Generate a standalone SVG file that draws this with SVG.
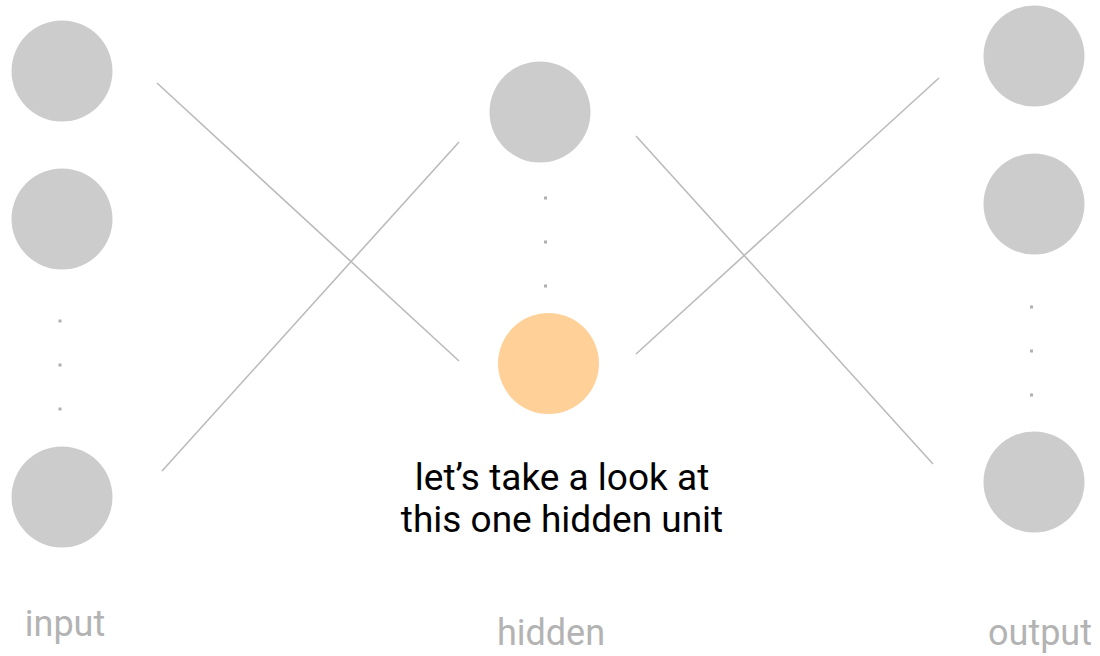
<svg xmlns="http://www.w3.org/2000/svg" width="1100" height="656" viewBox="0 0 1100 656">
<style>
.n{fill:#cccccc}
.h{fill:#ffd199}
.e{stroke:#bbbbbb;stroke-width:1.6;fill:none}
.d{fill:#b0b0b0}
.lbl{font-family:Roboto,"Liberation Sans",sans-serif;font-size:36px;fill:#b3b3b3;text-anchor:middle}
.note{font-family:Roboto,"Liberation Sans",sans-serif;font-size:37px;fill:#000;text-anchor:middle}
</style>
<rect width="1100" height="656" fill="#fff"/>
<g id="connectors">
<line class="e" x1="157" y1="83" x2="459" y2="361"/>
<line class="e" x1="162" y1="471" x2="459" y2="142"/>
<line class="e" x1="636" y1="136" x2="933" y2="464"/>
<line class="e" x1="636" y1="354" x2="939" y2="78"/>
</g>
<g id="input1"><circle class="n" cx="62" cy="71" r="50.5"/></g>
<g id="input2"><circle class="n" cx="62" cy="219" r="50.5"/></g>
<g id="input-dots"><rect class="d" x="58.5" y="319.5" width="3" height="3"/><rect class="d" x="58.5" y="363.5" width="3" height="3"/><rect class="d" x="58.5" y="407.5" width="3" height="3"/></g>
<g id="input3"><circle class="n" cx="62" cy="497" r="50.5"/></g>
<g id="hidden1"><circle class="n" cx="540" cy="112" r="50.5"/></g>
<g id="hidden-dots"><rect class="d" x="544" y="196.5" width="3" height="3"/><rect class="d" x="544" y="240.5" width="3" height="3"/><rect class="d" x="544" y="284.5" width="3" height="3"/></g>
<g id="hidden2"><circle class="h" cx="548.5" cy="363.5" r="50.5"/></g>
<g id="output1"><circle class="n" cx="1034" cy="56" r="50.5"/></g>
<g id="output2"><circle class="n" cx="1034" cy="204" r="50.5"/></g>
<g id="output-dots"><rect class="d" x="1030" y="305.5" width="3" height="3"/><rect class="d" x="1030" y="349.5" width="3" height="3"/><rect class="d" x="1030" y="393.5" width="3" height="3"/></g>
<g id="output3"><circle class="n" cx="1034" cy="482" r="50.5"/></g>
<g id="note"><text class="note" x="562" y="490">let’s take a look at</text><text class="note" x="562" y="532">this one hidden unit</text></g>
<g id="labels">
<text class="lbl" x="65" y="636">input</text>
<text class="lbl" x="551" y="645">hidden</text>
<text class="lbl" x="1040" y="645">output</text>
</g>
</svg>
